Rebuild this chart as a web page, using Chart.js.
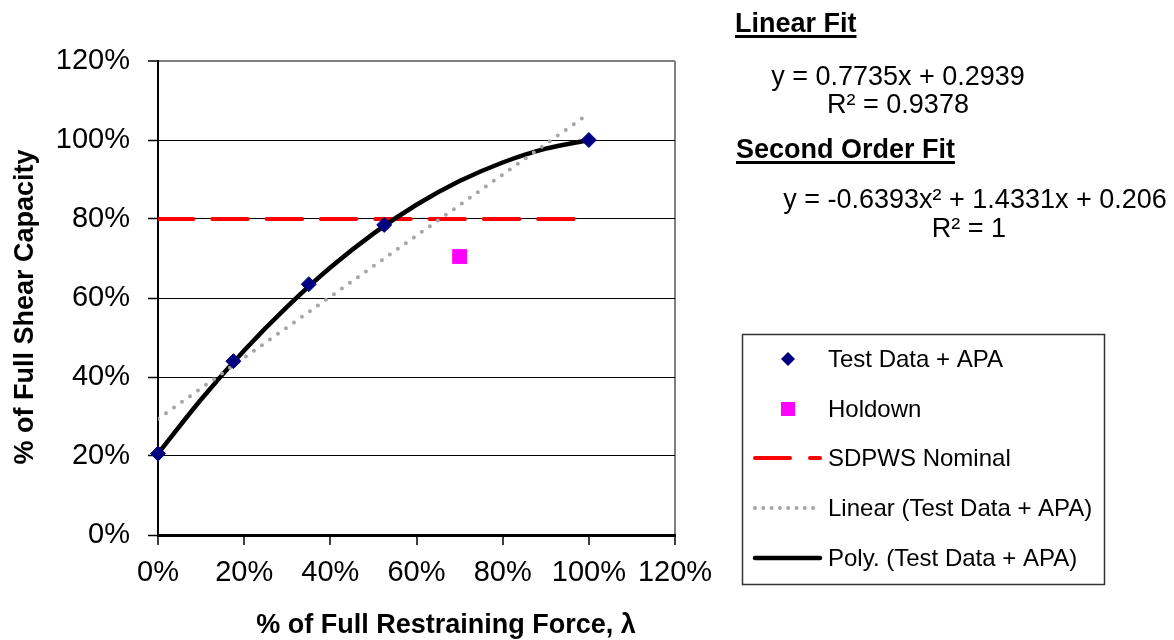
<!DOCTYPE html>
<html>
<head>
<meta charset="utf-8">
<script src="https://cdn.jsdelivr.net/npm/chart.js@4"></script>
<style>
  html, body { margin: 0; padding: 0; background: #fff; }
  canvas { display: block; }
</style>
</head>
<body>
<canvas id="myChart" width="1174" height="640"></canvas>
<script>
// values (fractions, 1 = 100%)
var testX = [0, 0.175, 0.35, 0.525, 1.0];
var testY = [0.206, 0.44, 0.635, 0.785, 1.0];
var holdownX = [0.70];
var holdownY = [0.705];
var nominalX = [0, 1.0];
var nominalY = [0.8, 0.8];
var linearX = [0, 1.0];
var linearY = [0.294, 1.067];
var polyX = [0, 0.1, 0.2, 0.3, 0.4, 0.5, 0.6, 0.7, 0.8, 0.9, 1.0];
var polyY = [0.206, 0.343, 0.467, 0.578, 0.677, 0.763, 0.836, 0.896, 0.943, 0.978, 1.0];
var tickValues = [0, 0.2, 0.4, 0.6, 0.8, 1.0, 1.2];
var tickLabels = ['0%', '20%', '40%', '60%', '80%', '100%', '120%'];

var legendNames = ['Test Data + APA', 'Holdown', 'SDPWS Nominal', 'Linear (Test Data + APA)', 'Poly. (Test Data + APA)'];
var fitTexts = ['Linear Fit', 'y = 0.7735x + 0.2939', 'R\u00b2 = 0.9378',
                'Second Order Fit', 'y = -0.6393x\u00b2 + 1.4331x + 0.206', 'R\u00b2 = 1'];

function pts(xs, ys) {
  return xs.map(function (x, i) { return { x: x, y: ys[i] }; });
}
function tickLabel(v) {
  var i = tickValues.findIndex(function (t) { return Math.abs(t - v) < 1e-6; });
  return i >= 0 ? tickLabels[i] : '';
}

var FONT = '"Liberation Sans", Arial, sans-serif';

// titles, fit equations and the boxed legend
var extras = {
  id: 'extras',
  afterDraw: function (chart) {
    var c = chart.ctx;
    c.save();
    c.fillStyle = '#000';

    // axis titles
    c.font = 'bold 27px ' + FONT;
    c.textAlign = 'center';
    c.textBaseline = 'alphabetic';
    c.fillText('% of Full Restraining Force, \u03bb', 446, 633);
    c.save();
    c.translate(33, 307);
    c.rotate(-Math.PI / 2);
    c.fillText('% of Full Shear Capacity', 0, 0);
    c.restore();

    // fit headings, underlined
    c.textAlign = 'left';
    c.font = 'bold 27px ' + FONT;
    c.fillText(fitTexts[0], 735, 32);
    c.fillRect(735, 35, c.measureText(fitTexts[0]).width, 3);
    c.fillText(fitTexts[3], 736, 158);
    c.fillRect(736, 161, c.measureText(fitTexts[3]).width, 3);

    c.textAlign = 'center';
    c.font = '27px ' + FONT;
    c.fillText(fitTexts[1], 898, 85);
    c.fillText(fitTexts[2], 898, 113);
    c.fillText(fitTexts[4], 975, 208);
    c.fillText(fitTexts[5], 969, 237);

    // legend box
    c.strokeStyle = '#333';
    c.lineWidth = 1.5;
    c.strokeRect(742.5, 334.5, 362, 250);

    var rows = [359, 409, 458, 508, 558];
    c.font = '24px ' + FONT;
    c.textAlign = 'left';
    legendNames.forEach(function (name, i) {
      c.fillStyle = '#000';
      c.fillText(name, 828, rows[i] + 8);
    });

    // markers
    c.fillStyle = '#000080';
    c.beginPath();
    c.moveTo(788, rows[0] - 7);
    c.lineTo(795, rows[0]);
    c.lineTo(788, rows[0] + 7);
    c.lineTo(781, rows[0]);
    c.closePath();
    c.fill();

    c.fillStyle = '#ff00ff';
    c.fillRect(781, rows[1] - 7, 14, 14);

    c.lineCap = 'round';
    c.strokeStyle = '#ff0000';
    c.lineWidth = 4;
    c.setLineDash([35, 20]);
    c.beginPath(); c.moveTo(755, rows[2]); c.lineTo(820, rows[2]); c.stroke();

    c.strokeStyle = '#a6a6a6';
    c.setLineDash([0, 8.3]);
    c.beginPath(); c.moveTo(755, rows[3]); c.lineTo(818, rows[3]); c.stroke();

    c.strokeStyle = '#000';
    c.lineWidth = 4.5;
    c.setLineDash([]);
    c.beginPath(); c.moveTo(755, rows[4]); c.lineTo(820, rows[4]); c.stroke();

    c.restore();
  }
};

var ctx = document.getElementById('myChart').getContext('2d');
var chart = new Chart(ctx, {
  type: 'scatter',
  data: {
    datasets: [{
      label: legendNames[0],
      data: pts(testX, testY),
      pointStyle: 'rectRot',
      pointRadius: 7.5,
      pointBackgroundColor: '#000080',
      pointBorderColor: '#000080',
      pointBorderWidth: 1,
      showLine: false,
      clip: false
    }, {
      label: legendNames[1],
      data: pts(holdownX, holdownY),
      pointStyle: 'rect',
      pointRadius: 10.5,
      pointBackgroundColor: '#ff00ff',
      pointBorderColor: '#ff00ff',
      pointBorderWidth: 0,
      showLine: false
    }, {
      label: legendNames[3],
      data: pts(linearX, linearY),
      showLine: true,
      borderColor: '#a6a6a6',
      borderWidth: 4,
      borderDash: [0, 9.8],
      borderCapStyle: 'round',
      pointRadius: 0
    }, {
      label: legendNames[4],
      data: pts(polyX, polyY),
      showLine: true,
      borderColor: '#000',
      borderWidth: 4.5,
      tension: 0.4,
      cubicInterpolationMode: 'monotone',
      borderCapStyle: 'round',
      pointRadius: 0,
      clip: false
    }, {
      label: legendNames[2],
      data: pts(nominalX, nominalY),
      showLine: true,
      borderColor: '#ff0000',
      borderWidth: 4,
      borderDash: [35.5, 18.8],
      borderCapStyle: 'round',
      pointRadius: 0
    }]
  },
  options: {
    responsive: false,
    animation: false,
    devicePixelRatio: 1,
    layout: { padding: { left: 0, top: 61, right: 499, bottom: 0 } },
    plugins: {
      legend: { display: false },
      tooltip: { enabled: false }
    },
    scales: {
      x: {
        type: 'linear',
        min: 0,
        max: 1.2,
        afterFit: function (s) { s.height = 105; },
        afterBuildTicks: function (s) { s.ticks = tickValues.map(function (v) { return { value: v }; }); },
        ticks: {
          callback: tickLabel,
          color: '#000',
          font: { family: FONT, size: 29 },
          padding: 11,
          maxRotation: 0,
          autoSkip: false
        },
        grid: {
          drawOnChartArea: true,
          color: function (c) { return c.tick && c.tick.value > 1.19 ? '#808080' : 'rgba(0,0,0,0)'; },
          lineWidth: 2,
          tickColor: '#000',
          tickLength: 10,
          tickWidth: 1.5
        },
        border: { color: '#000', width: 3 }
      },
      y: {
        type: 'linear',
        min: 0,
        max: 1.2,
        afterFit: function (s) { s.width = 158; },
        afterBuildTicks: function (s) { s.ticks = tickValues.map(function (v) { return { value: v }; }); },
        ticks: {
          callback: tickLabel,
          color: '#000',
          font: { family: FONT, size: 29 },
          padding: 18
        },
        grid: {
          color: function (c) { return c.tick && c.tick.value > 1.19 ? '#808080' : '#000'; },
          lineWidth: function (c) { return c.tick && c.tick.value > 1.19 ? 2 : 1; },
          tickColor: '#000',
          tickLength: 10,
          tickWidth: 1.5
        },
        border: { color: '#000', width: 2 }
      }
    }
  },
  plugins: [extras]
});
</script>
</body>
</html>
